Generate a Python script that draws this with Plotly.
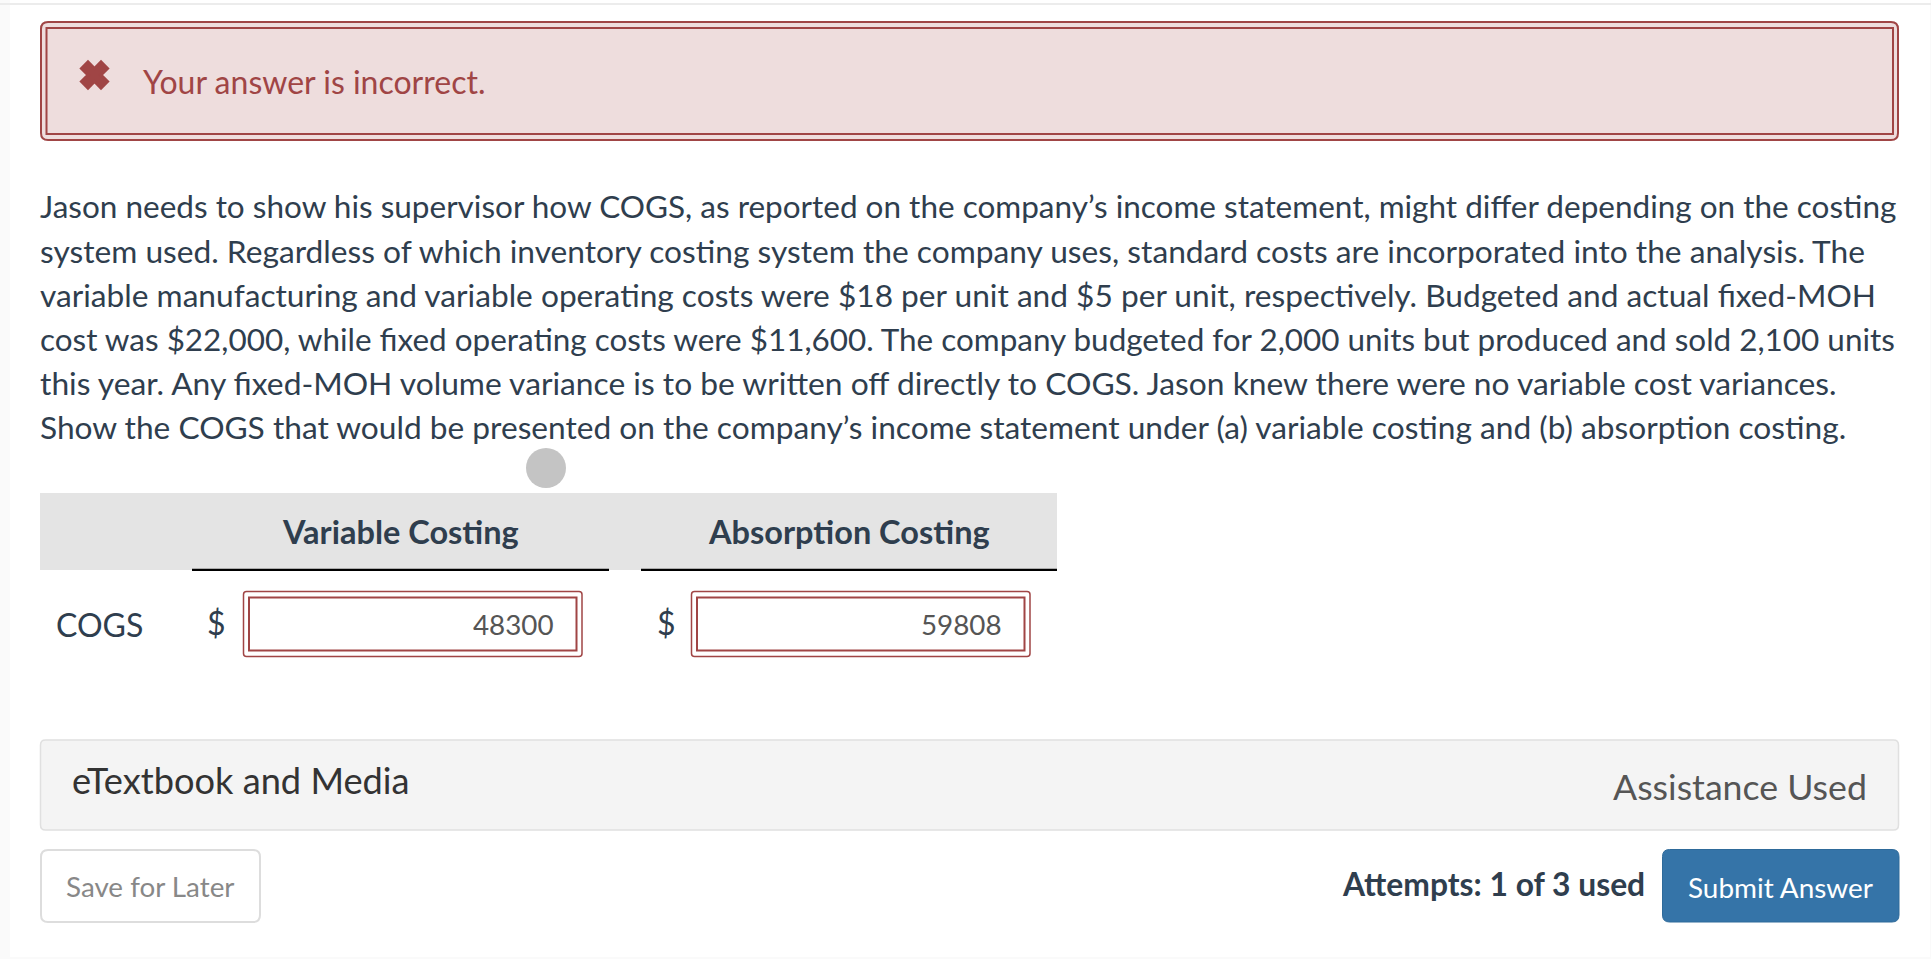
import plotly.graph_objects as go

W = 1931
H = 959

alert_text = "Your answer is incorrect."
question_lines = [
    "Jason needs to show his supervisor how COGS, as reported on the company’s income statement, might differ depending on the costing",
    "system used. Regardless of which inventory costing system the company uses, standard costs are incorporated into the analysis. The",
    "variable manufacturing and variable operating costs were $18 per unit and $5 per unit, respectively. Budgeted and actual fixed-MOH",
    "cost was $22,000, while fixed operating costs were $11,600. The company budgeted for 2,000 units but produced and sold 2,100 units",
    "this year. Any fixed-MOH volume variance is to be written off directly to COGS. Jason knew there were no variable cost variances.",
    "Show the COGS that would be presented on the company’s income statement under (a) variable costing and (b) absorption costing.",
]
columns = ["Variable Costing", "Absorption Costing"]
row_label = "COGS"
answers = ["48300", "59808"]

RED = "#a04545"
DARK = "#2f3e4e"


def rounded(x0, y0, x1, y1, r):
    return (f"M{x0+r},{y0} L{x1-r},{y0} Q{x1},{y0} {x1},{y0+r} L{x1},{y1-r} Q{x1},{y1} {x1-r},{y1} "
            f"L{x0+r},{y1} Q{x0},{y1} {x0},{y1-r} L{x0},{y0+r} Q{x0},{y0} {x0+r},{y0} Z")


def box(x0, y0, x1, y1, fill=None, line=None, lw=0, r=0):
    fig.add_shape(type="path", path=rounded(x0, y0, x1, y1, r), fillcolor=fill or "rgba(0,0,0,0)",
                  line=dict(color=line or "rgba(0,0,0,0)", width=lw), layer="below")


def label(text, x, y, size, color=DARK, anchor="left", bold=False):
    fig.add_annotation(x=x, y=y, text=f"<b>{text}</b>" if bold else text, showarrow=False, xanchor=anchor,
                       yanchor="middle", borderpad=0, borderwidth=0,
                       font=dict(family="Lato", size=size, color=color))


fig = go.Figure()

# page edges
box(0, 0, 10, H, fill="#fafafa")
box(1930, 0, W, H, fill="#fafafa")
box(0, 3, W, 5, fill="#ececec")
box(0, 957, W, H, fill="#fafafa")

# alert
box(41, 22, 1898, 140, fill="#eedddd", line=RED, lw=2, r=7)
box(46.5, 28, 1893, 134, line=RED, lw=2)
fig.add_trace(go.Scatter(x=[94.5], y=[75], mode="markers", hoverinfo="skip",
                         marker=dict(symbol="x", size=23, color=RED, line=dict(width=3, color=RED))))
label(alert_text, 143, 81, 32, color=RED)

# question, sizes differ a little per line to keep the same line ends
line_y = [206, 251, 294.5, 338.5, 382.5, 426.5]
line_size = [31.5, 31.7, 31.66, 31.45, 31.75, 31.66]
for txt, y, s in zip(question_lines, line_y, line_size):
    label(txt, 40, y, s)

# gray dot
fig.add_shape(type="circle", x0=526, x1=566, y0=448, y1=488, fillcolor="#c4c4c4", line_width=0, layer="below")

# table
box(40, 493, 1057, 570, fill="#e4e4e4")
box(192, 568.7, 609, 570.9, fill="#000000")
box(641, 568.7, 1057, 570.9, fill="#000000")
label(columns[0], 400, 531, 32.5, anchor="center", bold=True)
label(columns[1], 849, 531, 32.5, anchor="center", bold=True)
label(row_label, 56, 624, 32)
label("$", 216.5, 622, 32, anchor="center")
label("$", 666, 622, 32, anchor="center")
for i, x0 in enumerate([243.5, 691.5]):
    box(x0, 591.5, x0 + 338.5, 656.5, fill="#ffffff", line=RED, lw=1.5, r=3)
    box(x0 + 5.5, 597.5, x0 + 333, 650.5, line=RED, lw=2)
    label(answers[i], x0 + 310.5, 624.5, 27.8, color="#555555", anchor="right")

# bottom panel
box(40.5, 740, 1898.5, 830, fill="#f4f4f4", line="#e0e0e0", lw=1.5, r=5)
label("eTextbook and Media", 71.5, 780, 36.2, color="#333333")
label("Assistance Used", 1867, 786, 35.7, color="#555555", anchor="right")

# buttons
box(41, 850, 260, 922, fill="#ffffff", line="#dddddd", lw=2, r=7)
label("Save for Later", 66, 886.5, 27.8, color="#888888")
label("Attempts: 1 of 3 used", 1645, 883.5, 31.8, anchor="right", bold=True)
box(1662.5, 849.5, 1899, 922, fill="#3574a8", line="#2e6a9a", lw=1, r=7)
label("Submit Answer", 1688, 886.5, 27.9, color="#ffffff")

fig.update_xaxes(range=[0, W], visible=False, fixedrange=True)
fig.update_yaxes(range=[H, 0], visible=False, fixedrange=True)
fig.update_layout(width=W, height=H, margin=dict(l=0, r=0, t=0, b=0), showlegend=False,
                  paper_bgcolor="#ffffff", plot_bgcolor="#ffffff")

fig.write_html("out.html", config={"displayModeBar": False},
               post_script="document.body.style.margin='0';document.body.style.overflow='hidden';")
